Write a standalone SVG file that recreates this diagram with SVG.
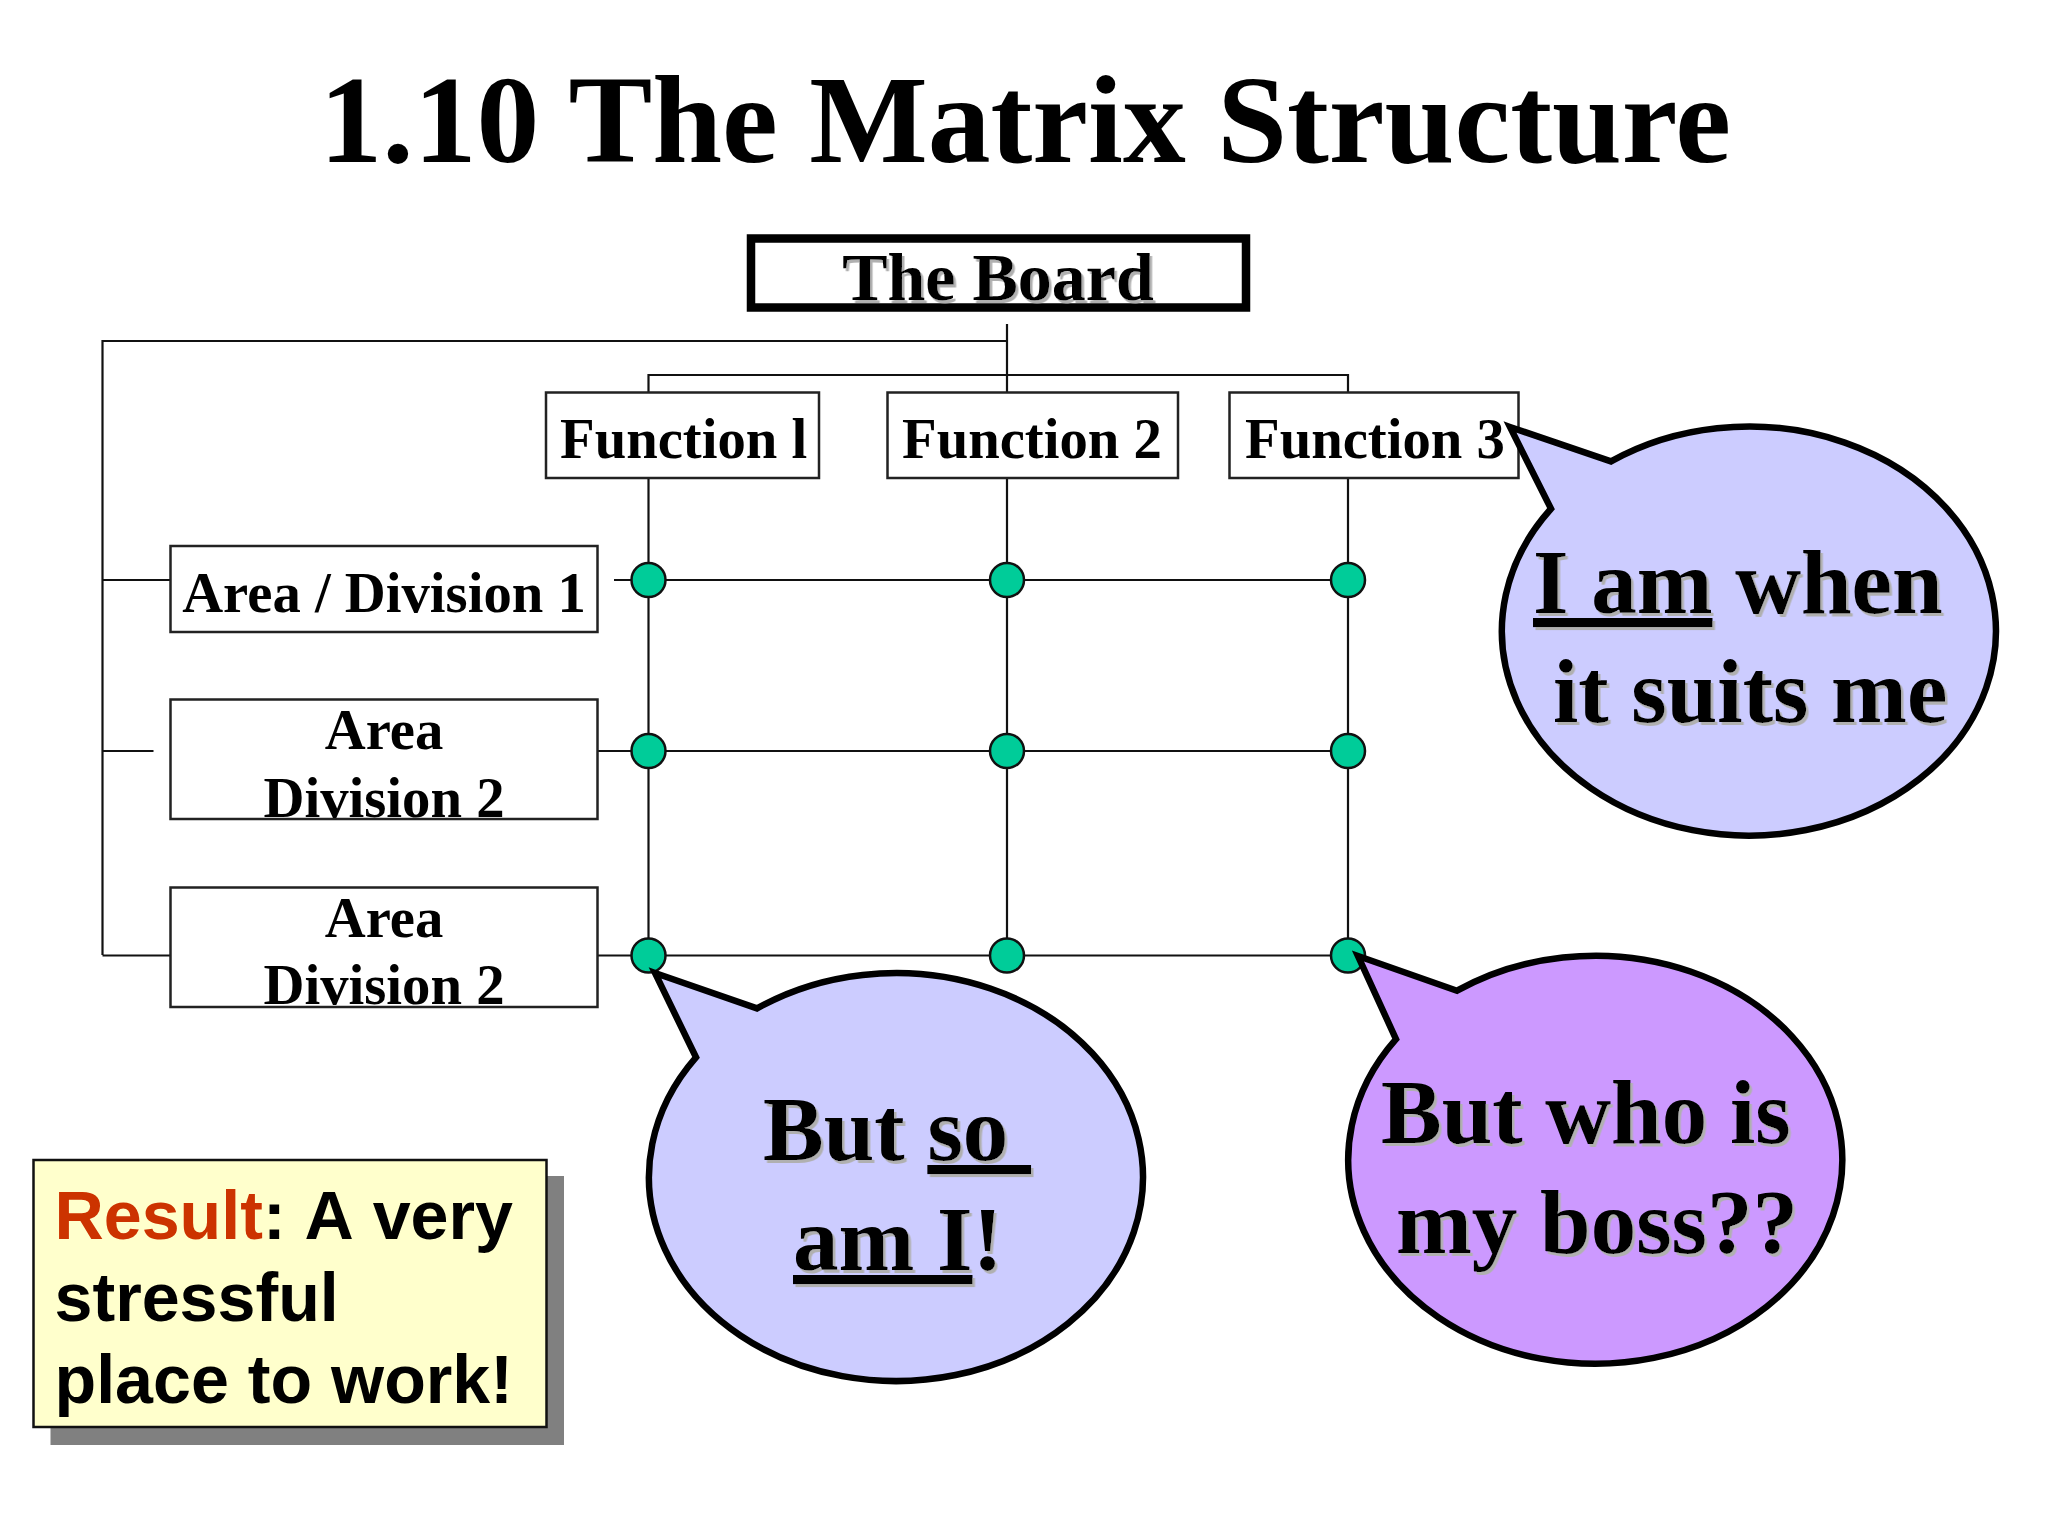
<svg xmlns="http://www.w3.org/2000/svg" width="2048" height="1536" viewBox="0 0 2048 1536">
<style>
.s{font-family:"Liberation Serif","Times New Roman",serif;font-weight:700;fill:#000}
.a{font-family:"Liberation Sans",Arial,sans-serif;font-weight:700;fill:#000}
.n{font-size:56.700px}
.b{font-size:91px}
.box{fill:#fff;stroke:#222;stroke-width:2.5}
.dot{fill:#00cc99;stroke:#111;stroke-width:2.5}
.call{stroke:#000;stroke-width:6.500;stroke-linejoin:miter}
.c line,.c path{stroke:#111;stroke-width:2.200;fill:none}
.u{text-decoration:underline}
</style>
<defs>
<filter id="sh" x="-5%" y="-10%" width="110%" height="125%"><feDropShadow dx="2.5" dy="3" stdDeviation="0.5" flood-color="#b0b0b0"/></filter>
</defs>
<rect width="2048" height="1536" fill="#fff"/>
<g id="title"><text class="s" x="319.500" y="162" font-size="125.600">1.10 The Matrix Structure</text></g>
<g id="connectors" class="c">
<path d="M1007 324V392M102.500 955V341H1007M648.500 392V375H1348V392"/>
<line x1="648.500" y1="478" x2="648.500" y2="955"/>
<line x1="1007" y1="478" x2="1007" y2="955"/>
<line x1="1348" y1="478" x2="1348" y2="955"/>
<line x1="102.500" y1="580" x2="170" y2="580"/>
<line x1="102.500" y1="751" x2="153.500" y2="751"/>
<line x1="102.500" y1="955.500" x2="170" y2="955.500"/>
<line x1="614" y1="580" x2="1348" y2="580"/>
<line x1="597.500" y1="751" x2="1348" y2="751"/>
<line x1="597.500" y1="955.500" x2="1348" y2="955.500"/>
</g>
<g id="board"><rect x="751" y="238.500" width="495" height="69" fill="#fff" stroke="#000" stroke-width="8.500"/><text class="s" x="998" y="300" font-size="68" text-anchor="middle" filter="url(#sh)">The Board</text></g>
<g id="function1"><rect class="box" x="546" y="392.500" width="273" height="85.500"/><text class="s n" x="560" y="457.500">Function l</text></g>
<g id="function2"><rect class="box" x="887.500" y="392.500" width="290.500" height="85.500"/><text class="s n" x="902" y="457.500">Function 2</text></g>
<g id="function3"><rect class="box" x="1229.500" y="392.500" width="289" height="85.500"/><text class="s n" x="1245" y="457.500">Function 3</text></g>
<g id="area1"><rect class="box" x="170.500" y="546" width="427" height="86"/><text class="s n" x="384" y="612" text-anchor="middle">Area / Division 1</text></g>
<g id="area2"><rect class="box" x="170.500" y="699.500" width="427" height="119.500"/><text class="s n" x="384" y="749" text-anchor="middle">Area</text><text class="s n" x="384" y="816.500" text-anchor="middle">Division 2</text></g>
<g id="area3"><rect class="box" x="170.500" y="887.500" width="427" height="119.500"/><text class="s n" x="384" y="937" text-anchor="middle">Area</text><text class="s n" x="384" y="1004" text-anchor="middle">Division 2</text></g>
<g id="dots">
<circle class="dot" cx="648.500" cy="580" r="17"/><circle class="dot" cx="1007" cy="580" r="17"/><circle class="dot" cx="1348" cy="580" r="17"/>
<circle class="dot" cx="648.500" cy="751" r="17"/><circle class="dot" cx="1007" cy="751" r="17"/><circle class="dot" cx="1348" cy="751" r="17"/>
<circle class="dot" cx="648.500" cy="955.500" r="17"/><circle class="dot" cx="1007" cy="955.500" r="17"/><circle class="dot" cx="1348" cy="955.500" r="17"/>
</g>
<g id="bubble-suits">
<path class="call" fill="#ccccff" d="M1510 427L1611 461.400A247 204.500 0 1 1 1551 508.700Z"/>
<text class="s b" x="1533" y="613" filter="url(#sh)"><tspan class="u">I am</tspan> when</text>
<text class="s b" x="1553" y="722" filter="url(#sh)">it suits me</text>
</g>
<g id="bubble-so">
<path class="call" fill="#ccccff" d="M655 973L757 1008.400A247 204 0 1 1 696 1057.300Z"/>
<text class="s b" x="763" y="1160" filter="url(#sh)" xml:space="preserve">But <tspan class="u">so </tspan></text>
<text class="s b" x="793" y="1270" filter="url(#sh)"><tspan class="u">am I</tspan>!</text>
</g>
<g id="bubble-boss">
<path class="call" fill="#cc99ff" d="M1358 956L1457 990.700A247 204 0 1 1 1396 1039.200Z"/>
<text class="s b" x="1381" y="1143" filter="url(#sh)">But who is</text>
<text class="s b" x="1396" y="1253" filter="url(#sh)">my boss??</text>
</g>
<g id="result">
<rect x="50.500" y="1176" width="513.500" height="269" fill="#808080"/>
<rect x="33.500" y="1160" width="513" height="267" fill="#ffffcc" stroke="#111" stroke-width="2.500"/>
<text class="a" font-size="68.200" x="54.500" y="1239" word-spacing="2.500"><tspan fill="#cc3300">Result</tspan>: A very</text>
<text class="a" font-size="68.200" x="54.500" y="1321">stressful</text>
<text class="a" font-size="68.200" x="54.500" y="1403">place to work!</text>
</g>
</svg>
